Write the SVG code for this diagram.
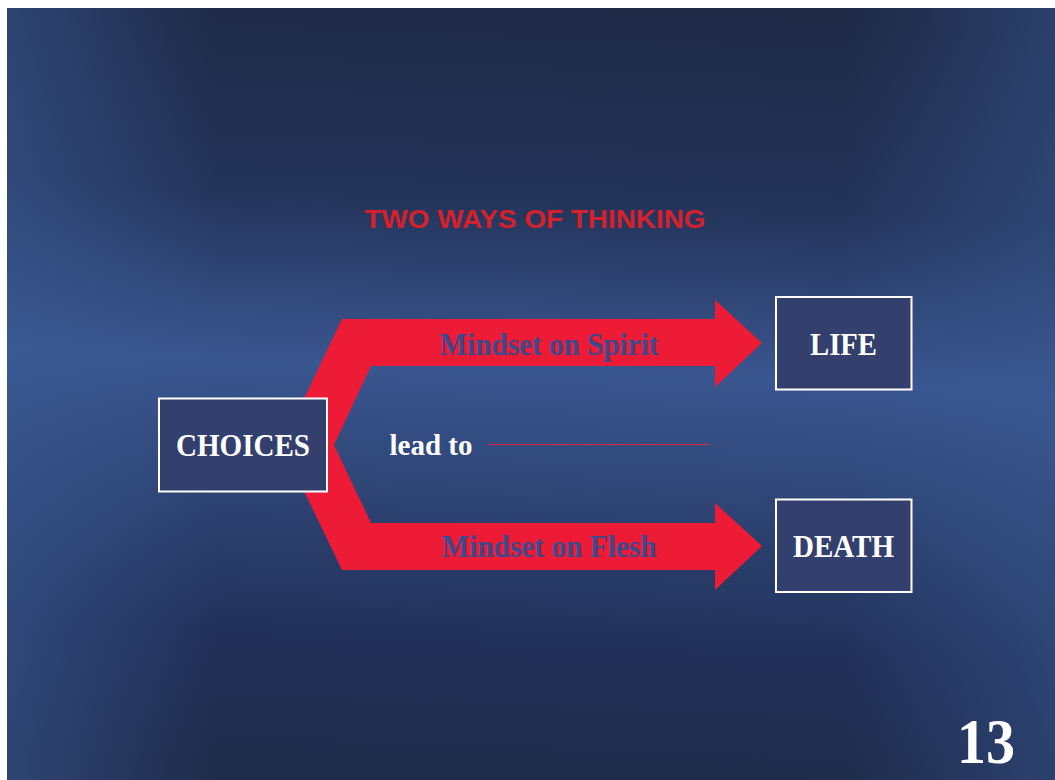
<svg xmlns="http://www.w3.org/2000/svg" width="1055" height="780" viewBox="0 0 1055 780">
<defs>
<linearGradient id="bgV" x1="0" y1="0" x2="0" y2="1" gradientTransform="rotate(3 0.5 0.5)">
<stop offset="0" stop-color="#1e2946"/>
<stop offset="0.25" stop-color="#24345a"/>
<stop offset="0.47" stop-color="#3a5690"/>
<stop offset="0.62" stop-color="#2f4677"/>
<stop offset="0.82" stop-color="#22315a"/>
<stop offset="1" stop-color="#1f2b4a"/>
</linearGradient>
<linearGradient id="bgH" x1="0" y1="0" x2="1" y2="0">
<stop offset="0" stop-color="#3a5a94" stop-opacity="0.55"/>
<stop offset="0.2" stop-color="#3a5a94" stop-opacity="0"/>
<stop offset="0.8" stop-color="#3a5a94" stop-opacity="0"/>
<stop offset="1" stop-color="#3a5a94" stop-opacity="0.45"/>
</linearGradient>
<style>
.box{fill:#33406e;stroke:#ffffff;stroke-width:2}
.lbl{font-family:"Liberation Serif","Times New Roman",serif;font-weight:bold;fill:#ffffff;text-anchor:middle}
.arr{font-family:"Liberation Serif","Times New Roman",serif;font-weight:bold;fill:#3b4a8c;text-anchor:middle}
</style>
</defs>
<rect x="0" y="0" width="1055" height="780" fill="#ffffff"/>
<rect x="7" y="8" width="1048" height="772" fill="url(#bgV)"/>
<rect x="7" y="8" width="1048" height="772" fill="url(#bgH)"/>
<text x="535" y="228" font-family="'Liberation Sans',Arial,sans-serif" font-weight="bold" font-size="26.5" fill="#d6202b" text-anchor="middle" textLength="341" lengthAdjust="spacingAndGlyphs">TWO WAYS OF THINKING</text>
<g id="connectors">
<polygon points="342,319 715,319 715,300 762,343 715,387 715,366 371,366 334,445 371,523 715,523 715,503 762,546 715,590 715,570 342,570 282,445" fill="#ed1b35"/>
<text class="arr" x="549" y="355" font-size="31" textLength="219" lengthAdjust="spacingAndGlyphs">Mindset on Spirit</text>
<text class="arr" x="549" y="557" font-size="31" textLength="215" lengthAdjust="spacingAndGlyphs">Mindset on Flesh</text>
<line x1="488" y1="444.5" x2="709" y2="444.5" stroke="#e0283c" stroke-width="1.2"/>
<text class="lbl" x="431" y="455" font-size="29" textLength="83" lengthAdjust="spacingAndGlyphs">lead to</text>
</g>
<g id="choices">
<rect class="box" x="159" y="398.5" width="168" height="93"/>
<text class="lbl" x="243" y="455.5" font-size="32" textLength="134" lengthAdjust="spacingAndGlyphs">CHOICES</text>
</g>
<g id="life">
<rect class="box" x="776" y="297" width="135.5" height="92.5"/>
<text class="lbl" x="843.5" y="355" font-size="32" textLength="67" lengthAdjust="spacingAndGlyphs">LIFE</text>
</g>
<g id="death">
<rect class="box" x="776" y="499.5" width="135.5" height="92.5"/>
<text class="lbl" x="843.5" y="557" font-size="32" textLength="101" lengthAdjust="spacingAndGlyphs">DEATH</text>
</g>
<text class="lbl" x="986" y="763" font-size="64" textLength="58" lengthAdjust="spacingAndGlyphs">13</text>
</svg>
